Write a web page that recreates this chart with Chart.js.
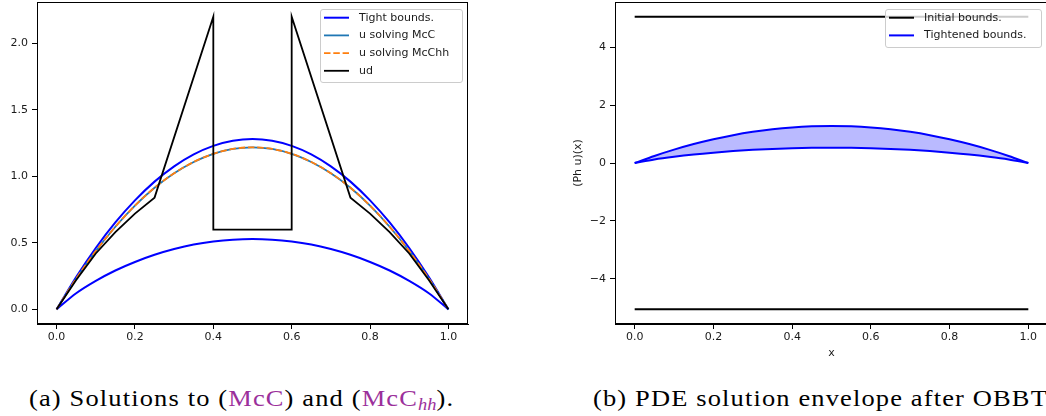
<!DOCTYPE html>
<html>
<head>
<meta charset="utf-8">
<script src="https://cdn.jsdelivr.net/npm/chart.js@4.4.1/dist/chart.umd.min.js"></script>
<style>
    html, body { margin: 0; padding: 0; background: #fff; overflow: hidden; width: 1046px; height: 416px; }
    #boxA { position: absolute; left: 0; top: 0; }
    #boxB { position: absolute; left: 560px; top: 0; }
    .cap { position: absolute; top: 387px; font-family: 'Liberation Serif', serif; font-size: 23px; line-height: 23px;
           letter-spacing: 1px; white-space: nowrap; color: #000; transform: scaleX(1.15); transform-origin: left top; }
    .ref { color: #9b309b; }
    .ref sub { font-style: italic; font-size: 16px; vertical-align: -4px; line-height: 0; letter-spacing: 0; }
</style>
</head>
<body>
<div id="boxA"><canvas id="chartA" width="480" height="362"></canvas></div>
<div id="boxB"><canvas id="chartB" width="490" height="362"></canvas></div>
<div class="cap" id="capA" style="left:29px">(a) Solutions to (<span class="ref">McC</span>) and (<span class="ref">McC<sub>hh</sub></span>).</div>
<div class="cap" id="capB" style="left:593px">(b) PDE solution envelope after OBBT.</div>

<script>
// --- datos ---
const xs = [0, 0.05, 0.1, 0.15, 0.2, 0.25, 0.3, 0.35, 0.4, 0.45, 0.5,
            0.55, 0.6, 0.65, 0.7, 0.75, 0.8, 0.85, 0.9, 0.95, 1];
const upperBound = [0, 0.243, 0.461, 0.653, 0.819, 0.960, 1.075, 1.165, 1.229, 1.267, 1.280,
                    1.267, 1.229, 1.165, 1.075, 0.960, 0.819, 0.653, 0.461, 0.243, 0];
const lowerBound = [0, 0.121, 0.214, 0.292, 0.356, 0.410, 0.453, 0.487, 0.510, 0.524, 0.529,
                    0.524, 0.510, 0.487, 0.453, 0.410, 0.356, 0.292, 0.214, 0.121, 0];
const uMcC = [0, 0.231, 0.438, 0.621, 0.780, 0.914, 1.023, 1.108, 1.169, 1.206, 1.218,
              1.206, 1.169, 1.108, 1.023, 0.914, 0.780, 0.621, 0.438, 0.231, 0];
const uMcChh = [0, 0.231, 0.438, 0.621, 0.780, 0.914, 1.023, 1.108, 1.169, 1.206, 1.218,
                1.206, 1.169, 1.108, 1.023, 0.914, 0.780, 0.621, 0.438, 0.231, 0];
const udX = [0, 0.05, 0.1, 0.15, 0.2, 0.25, 0.4, 0.4, 0.6, 0.6, 0.75, 0.8, 0.85, 0.9, 0.95, 1];
const udY = [0, 0.22, 0.42, 0.58, 0.72, 0.84, 2.2, 0.6, 0.6, 2.2, 0.84, 0.72, 0.58, 0.42, 0.22, 0];
const initX = [0, 1];
const initUpper = [5.05, 5.05];
const initLower = [-5.05, -5.05];
const xTicksA = [0, 0.2, 0.4, 0.6, 0.8, 1.0];

const FONT = { family: "'DejaVu Sans', sans-serif", size: 11 };
const TEXT = '#1a1a1a';

const pts = (xv, yv) => xv.map((x, i) => ({ x: x, y: yv[i] }));

// marco completo del área (spines de matplotlib)
const frame = {
    id: 'frame',
    afterDraw(chart) {
        const { ctx, chartArea: a } = chart;
        ctx.save();
        ctx.strokeStyle = '#000';
        ctx.lineWidth = 1;
        ctx.strokeRect(Math.round(a.left) + 0.5, Math.round(a.top) + 0.5,
                       Math.round(a.right - a.left) - 1, Math.round(a.bottom - a.top) - 1);
        ctx.restore();
    }
};

// leyenda con caja semitransparente, como la de matplotlib
function makeLegend(cfg) {
    return {
        id: 'boxLegend',
        afterDatasetsDraw(chart) {
            const ctx = chart.ctx;
            ctx.save();
            ctx.beginPath();
            ctx.roundRect(cfg.x + 0.5, cfg.y + 0.5, cfg.w, cfg.h, 2.5);
            ctx.fillStyle = 'rgba(255,255,255,0.8)';
            ctx.fill();
            ctx.strokeStyle = '#cccccc';
            ctx.lineWidth = 1;
            ctx.stroke();
            ctx.font = FONT.size + 'px ' + FONT.family;
            ctx.textBaseline = 'middle';
            cfg.items.forEach((idx, i) => {
                const ds = chart.data.datasets[idx];
                const y = cfg.y + cfg.first + i * cfg.step;
                ctx.strokeStyle = ds.borderColor;
                ctx.lineWidth = ds.borderWidth;
                ctx.setLineDash(ds.borderDash || []);
                ctx.beginPath();
                ctx.moveTo(cfg.x + 4, y);
                ctx.lineTo(cfg.x + 29, y);
                ctx.stroke();
                ctx.setLineDash([]);
                ctx.fillStyle = TEXT;
                ctx.fillText(ds.label, cfg.x + 39, y);
            });
            ctx.restore();
        }
    };
}

function fitX(s) { s.height = 38; s.paddingLeft = 0; s.paddingRight = 0; }

const tickFmt1 = v => v.toFixed(1);

// --- (a) ---
new Chart(document.getElementById('chartA'), {
    type: 'line',
    data: {
        datasets: [
            { label: 'ud', data: pts(udX, udY), borderColor: '#000000', borderWidth: 1.8, order: 0 },
            { label: 'u solving McChh', data: pts(xs, uMcChh), borderColor: '#ff7f0e', borderWidth: 1.8,
              borderDash: [6.5, 2.8], cubicInterpolationMode: 'monotone', order: 1 },
            { label: 'u solving McC', data: pts(xs, uMcC), borderColor: '#1f77b4', borderWidth: 1.8,
              cubicInterpolationMode: 'monotone', order: 2 },
            { label: 'Tight bounds.', data: pts(xs, upperBound), borderColor: '#0000ff', borderWidth: 2,
              cubicInterpolationMode: 'monotone', order: 3 },
            { label: '_lower', data: pts(xs, lowerBound), borderColor: '#0000ff', borderWidth: 2,
              cubicInterpolationMode: 'monotone', order: 3 }
        ]
    },
    options: {
        responsive: false,
        animation: false,
        events: [],
        elements: { point: { radius: 0 } },
        layout: { padding: { top: 2, right: 12, left: 0, bottom: 0 } },
        plugins: { legend: { display: false }, tooltip: { enabled: false } },
        scales: {
            x: {
                type: 'linear', min: -0.05, max: 1.05,
                afterFit: fitX,
                afterBuildTicks: s => { s.ticks = xTicksA.map(v => ({ value: v })); },
                ticks: { callback: tickFmt1, font: FONT, color: TEXT, padding: 2, maxRotation: 0 },
                grid: { drawOnChartArea: false, tickLength: 5, color: '#000' },
                border: { color: '#000' }
            },
            y: {
                min: -0.11, max: 2.31,
                afterFit: s => { s.width = 37; s.paddingTop = 0; s.paddingBottom = 0; },
                ticks: { stepSize: 0.5, includeBounds: false, callback: tickFmt1, font: FONT, color: TEXT, padding: 4 },
                grid: { drawOnChartArea: false, tickLength: 5, color: '#000' },
                border: { color: '#000' }
            }
        }
    },
    plugins: [frame, makeLegend({ x: 320, y: 9, w: 142, h: 73, first: 8.7, step: 17.7, items: [3, 2, 1, 0] })]
});

// --- (b) ---
new Chart(document.getElementById('chartB'), {
    type: 'line',
    data: {
        datasets: [
            { label: 'Initial bounds.', data: pts(initX, initUpper), borderColor: '#000000', borderWidth: 2 },
            { label: '_init_low', data: pts(initX, initLower), borderColor: '#000000', borderWidth: 2 },
            { label: 'Tightened bounds.', data: pts(xs, upperBound), borderColor: '#0000ff', borderWidth: 2,
              cubicInterpolationMode: 'monotone', fill: '+1', backgroundColor: 'rgba(0,0,255,0.27)' },
            { label: '_tight_low', data: pts(xs, lowerBound), borderColor: '#0000ff', borderWidth: 2,
              cubicInterpolationMode: 'monotone' }
        ]
    },
    options: {
        responsive: false,
        animation: false,
        events: [],
        elements: { point: { radius: 0 } },
        layout: { padding: { top: 2, right: 2, left: 0, bottom: 0 } },
        plugins: { legend: { display: false }, tooltip: { enabled: false } },
        scales: {
            x: {
                type: 'linear', min: -0.05, max: 1.05,
                afterFit: fitX,
                afterBuildTicks: s => { s.ticks = xTicksA.map(v => ({ value: v })); },
                title: { display: true, text: 'x', font: FONT, color: TEXT, padding: { top: 0, bottom: 2 } },
                ticks: { callback: tickFmt1, font: FONT, color: TEXT, padding: 2, maxRotation: 0 },
                grid: { drawOnChartArea: false, tickLength: 5, color: '#000' },
                border: { color: '#000' }
            },
            y: {
                min: -5.555, max: 5.555,
                afterFit: s => { s.width = 55; s.paddingTop = 0; s.paddingBottom = 0; },
                title: { display: true, text: '(Ph u)(x)', font: FONT, color: TEXT, padding: { top: 11.4, bottom: 0 } },
                ticks: {
                    stepSize: 2, includeBounds: false, font: FONT, color: TEXT, padding: 4,
                    callback: v => (v < 0 ? '\u2212' + Math.abs(v) : String(v))
                },
                grid: { drawOnChartArea: false, tickLength: 5, color: '#000' },
                border: { color: '#000' }
            }
        }
    },
    plugins: [frame, makeLegend({ x: 325, y: 9, w: 156, h: 38, first: 8.7, step: 17.7, items: [0, 2] })]
});
</script>
</body>
</html>
